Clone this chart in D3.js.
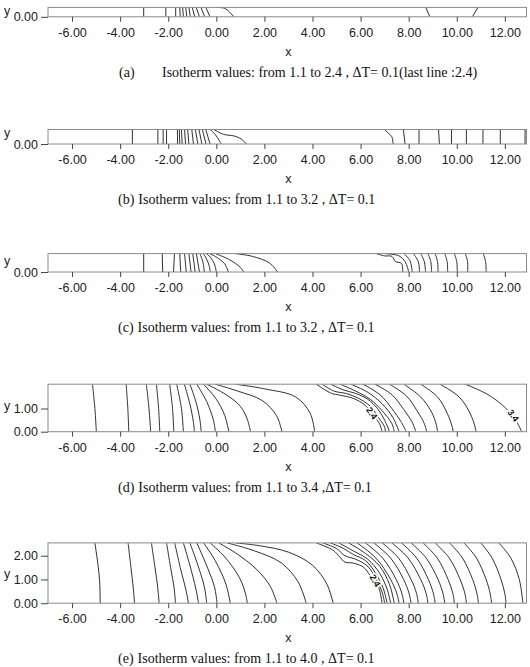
<!DOCTYPE html>
<html>
<head>
<meta charset="utf-8">
<script src="https://cdn.jsdelivr.net/npm/d3@7"></script>
<style>
  body { margin: 0; background: #fff; }
  .tick text { font-family: "Liberation Sans", Arial, sans-serif; font-size: 12.5px; fill: #222; }
  .tick line { stroke: #444; }
</style>
</head>
<body>
<svg id="chart" width="530" height="667"></svg>
<script>
// x ticks shared by all panels
const xTicks = [-6, -4, -2, 0, 2, 4, 6, 8, 10, 12];

// panel captions
const captions = [
  ["(a)", "Isotherm values: from 1.1 to 2.4 , \u0394T= 0.1(last line :2.4)"],
  ["(b)", "Isotherm values: from 1.1 to 3.2 , \u0394T= 0.1"],
  ["(c)", "Isotherm values: from 1.1 to 3.2 , \u0394T= 0.1"],
  ["(d)", "Isotherm values: from 1.1 to 3.4 ,\u0394T= 0.1"],
  ["(e)", "Isotherm values: from 1.1 to 4.0 , \u0394T= 0.1"]
];

// channel heights (y max) and y tick values
const yMax = [0.4, 0.6, 0.8, 2.05, 2.54];
const yTicksA = [0], yTicksB = [0], yTicksC = [0], yTicksD = [0, 1], yTicksE = [0, 1, 2];

// isotherms: [x, y] points
const linesA = [
  [[-3.02, 0], [-3.02, 0.4]],
  [[-2.1, 0], [-2.1, 0.4]],
  [[-1.69, 0], [-1.69, 0.4]],
  [[-1.5, 0], [-1.52, 0.4]],
  [[-1.37, 0], [-1.4, 0.4]],
  [[-1.23, 0], [-1.27, 0.4]],
  [[-1.08, 0], [-1.14, 0.4]],
  [[-0.9, 0], [-1.0, 0.4]],
  [[-0.7, 0], [-0.84, 0.4]],
  [[-0.48, 0], [-0.64, 0.4]],
  [[-0.26, 0], [-0.44, 0.4]],
  [[0.0, 0.4], [0.35, 0.36], [0.55, 0.2], [0.73, 0]],
  [[8.71, 0.4], [8.88, 0]],
  [[10.88, 0.4], [10.65, 0]]
];

const linesB = [
  [[-3.49, 0], [-3.49, 0.6]],
  [[-2.43, 0], [-2.43, 0.6]],
  [[-2.21, 0], [-2.21, 0.6]],
  [[-2.07, 0], [-2.07, 0.6]],
  [[-1.61, 0], [-1.62, 0.6]],
  [[-1.52, 0], [-1.54, 0.6]],
  [[-1.42, 0], [-1.45, 0.6]],
  [[-1.28, 0], [-1.32, 0.6]],
  [[-1.14, 0], [-1.19, 0.6]],
  [[-0.95, 0], [-1.02, 0.6]],
  [[-0.77, 0], [-0.87, 0.6]],
  [[-0.6, 0], [-0.72, 0.6]],
  [[-0.43, 0], [-0.58, 0.6]],
  [[-0.26, 0], [-0.44, 0.6]],
  [[-0.25, 0.6], [-0.05, 0.4], [0.12, 0.15], [0.2, 0]],
  [[-0.1, 0.6], [0.3, 0.4], [0.75, 0.33], [1.05, 0.2], [1.25, 0]],
  [[7.0, 0.6], [7.15, 0.45], [7.3, 0.3], [7.35, 0]],
  [[7.78, 0.6], [7.85, 0]],
  [[8.43, 0.6], [8.43, 0]],
  [[9.24, 0.6], [9.28, 0]],
  [[9.78, 0.6], [9.78, 0]],
  [[10.4, 0.6], [10.4, 0]],
  [[11.09, 0.6], [11.09, 0]],
  [[11.81, 0.6], [11.81, 0]],
  [[12.84, 0.6], [12.84, 0]]
];

const linesC = [
  [[-3.02, 0], [-3.02, 0.8]],
  [[-2.23, 0], [-2.25, 0.8]],
  [[-1.78, 0], [-1.74, 0.8]],
  [[-1.48, 0], [-1.52, 0.8]],
  [[-1.25, 0], [-1.32, 0.8]],
  [[-1.05, 0], [-1.14, 0.8]],
  [[-0.88, 0], [-0.98, 0.8]],
  [[-0.7, 0], [-0.83, 0.8]],
  [[-0.5, 0], [-0.55, 0.4], [-0.68, 0.8]],
  [[-0.25, 0], [-0.32, 0.35], [-0.45, 0.65], [-0.55, 0.8]],
  [[0.0, 0], [-0.08, 0.35], [-0.25, 0.65], [-0.42, 0.8]],
  [[0.5, 0], [0.35, 0.35], [0.0, 0.65], [-0.28, 0.8]],
  [[1.14, 0], [1.0, 0.2], [0.52, 0.55], [-0.04, 0.8]],
  [[2.55, 0], [2.2, 0.4], [1.5, 0.68], [0.8, 0.8]],
  [[6.65, 0.8], [7.0, 0.7], [7.3, 0.68], [7.45, 0.45], [7.7, 0.38], [7.75, 0]],
  [[7.0, 0.8], [7.6, 0.7], [7.85, 0.45], [7.95, 0.2], [8.0, 0]],
  [[7.8, 0.8], [8.05, 0.5], [8.15, 0]],
  [[8.2, 0.8], [8.4, 0.45], [8.45, 0]],
  [[8.5, 0.8], [8.65, 0.45], [8.7, 0]],
  [[8.8, 0.8], [8.92, 0.45], [8.95, 0]],
  [[9.1, 0.8], [9.2, 0.45], [9.22, 0]],
  [[9.5, 0.8], [9.6, 0.45], [9.62, 0]],
  [[9.9, 0.8], [10.0, 0.45], [10.02, 0]],
  [[10.35, 0.8], [10.45, 0.45], [10.45, 0]],
  [[11.1, 0.8], [11.2, 0.45], [11.22, 0]]
];

const linesD = [
  [[-5.15, 2.05], [-5.05, 1.0], [-4.99, 0]],
  [[-3.75, 2.05], [-3.68, 1.0], [-3.64, 0]],
  [[-2.91, 2.05], [-2.8, 1.0], [-2.73, 0]],
  [[-2.49, 2.05], [-2.4, 1.0], [-2.35, 0]],
  [[-1.94, 2.05], [-1.82, 1.0], [-1.77, 0]],
  [[-1.65, 2.05], [-1.45, 1.0], [-1.37, 0]],
  [[-1.33, 2.05], [-1.1, 1.2], [-0.95, 0.4], [-0.91, 0]],
  [[-1.1, 2.05], [-0.85, 1.3], [-0.68, 0.5], [-0.63, 0]],
  [[-0.81, 2.05], [-0.4, 1.3], [-0.12, 0.5], [-0.04, 0]],
  [[-0.53, 2.05], [0.0, 1.4], [0.35, 0.7], [0.52, 0]],
  [[-0.4, 2.05], [0.4, 1.6], [1.0, 1.1], [1.3, 0.5], [1.42, 0]],
  [[-0.04, 2.05], [0.9, 1.75], [1.9, 1.35], [2.5, 0.7], [2.73, 0]],
  [[0.8, 2.05], [2.0, 1.85], [3.3, 1.5], [3.9, 0.8], [4.09, 0]],
  [[4.16, 2.05], [4.78, 1.66], [5.13, 1.58], [5.69, 1.44], [6.19, 1.14], [6.53, 0.7], [6.79, 0.34], [6.89, 0]],
  [[4.4, 2.05], [4.9, 1.75], [5.4, 1.65], [5.9, 1.45], [6.4, 1.1], [6.75, 0.6], [7.0, 0.2], [7.03, 0]],
  [[4.75, 2.05], [5.3, 1.8], [5.8, 1.65], [6.3, 1.4], [6.7, 1.0], [7.0, 0.5], [7.2, 0]],
  [[5.15, 2.05], [5.8, 1.75], [6.4, 1.4], [6.9, 0.9], [7.3, 0.35], [7.4, 0]],
  [[5.6, 2.05], [6.3, 1.7], [6.9, 1.2], [7.35, 0.6], [7.6, 0]],
  [[6.1, 2.05], [6.8, 1.6], [7.3, 1.0], [7.7, 0.4], [7.9, 0]],
  [[6.6, 2.05], [7.3, 1.6], [7.8, 0.95], [8.15, 0.4], [8.3, 0]],
  [[7.2, 2.05], [7.9, 1.55], [8.35, 0.9], [8.65, 0.35], [8.75, 0]],
  [[7.8, 2.05], [8.5, 1.5], [8.95, 0.85], [9.15, 0.3], [9.2, 0]],
  [[8.5, 2.05], [9.2, 1.5], [9.6, 0.8], [9.8, 0.25], [9.85, 0]],
  [[9.3, 2.05], [10.1, 1.5], [10.55, 0.8], [10.75, 0.25], [10.8, 0]],
  [[10.35, 2.05], [11.3, 1.6], [12.0, 1.05], [12.45, 0.5], [12.7, 0]]
];

const linesE = [
  [[-5.05, 2.54], [-4.92, 1.6], [-4.85, 0.9], [-4.83, 0]],
  [[-3.67, 2.54], [-3.55, 1.5], [-3.45, 0.6], [-3.4, 0]],
  [[-2.7, 2.54], [-2.55, 1.5], [-2.43, 0.6], [-2.38, 0]],
  [[-2.07, 2.54], [-1.9, 1.5], [-1.75, 0.6], [-1.7, 0]],
  [[-1.73, 2.54], [-1.5, 1.5], [-1.25, 0.5], [-1.16, 0]],
  [[-1.37, 2.54], [-1.1, 1.6], [-0.85, 0.6], [-0.74, 0]],
  [[-1.1, 2.54], [-0.8, 1.7], [-0.5, 0.7], [-0.4, 0]],
  [[-0.81, 2.54], [-0.45, 1.7], [-0.08, 0.7], [0.03, 0]],
  [[-0.53, 2.54], [-0.05, 1.8], [0.4, 0.8], [0.58, 0]],
  [[-0.26, 2.54], [0.35, 1.95], [0.95, 1.1], [1.2, 0.45], [1.29, 0]],
  [[0.1, 2.54], [0.9, 2.05], [1.7, 1.4], [2.25, 0.7], [2.52, 0]],
  [[0.45, 2.54], [1.6, 2.2], [2.7, 1.7], [3.4, 0.9], [3.74, 0]],
  [[0.8, 2.54], [1.8, 2.42], [3.0, 2.15], [4.0, 1.6], [4.6, 0.8], [4.86, 0]],
  [[4.16, 2.54], [4.86, 2.23], [5.13, 1.95], [5.35, 1.73], [5.69, 1.69], [6.12, 1.52], [6.4, 1.16], [6.75, 0.67], [6.89, 0]],
  [[4.43, 2.54], [5.0, 2.3], [5.35, 2.0], [5.8, 1.85], [6.3, 1.55], [6.65, 1.0], [6.9, 0.45], [7.0, 0]],
  [[4.75, 2.54], [5.3, 2.3], [5.7, 2.05], [6.2, 1.8], [6.6, 1.3], [6.95, 0.6], [7.1, 0]],
  [[5.1, 2.54], [5.7, 2.2], [6.3, 1.85], [6.8, 1.25], [7.1, 0.6], [7.25, 0]],
  [[5.5, 2.54], [6.2, 2.1], [6.8, 1.55], [7.2, 0.8], [7.4, 0]],
  [[5.85, 2.54], [6.64, 1.9], [7.25, 1.0], [7.51, 0.4], [7.6, 0]],
  [[6.2, 2.54], [6.92, 1.9], [7.48, 1.0], [7.72, 0.4], [7.8, 0]],
  [[6.55, 2.54], [7.25, 1.9], [7.79, 1.0], [8.02, 0.4], [8.1, 0]],
  [[6.9, 2.54], [7.58, 1.9], [8.1, 1.0], [8.33, 0.4], [8.4, 0]],
  [[7.3, 2.54], [7.98, 1.9], [8.5, 1.0], [8.73, 0.4], [8.8, 0]],
  [[7.7, 2.54], [8.33, 1.9], [8.82, 1.0], [9.03, 0.4], [9.1, 0]],
  [[8.1, 2.54], [8.73, 1.9], [9.22, 1.0], [9.43, 0.4], [9.5, 0]],
  [[8.6, 2.54], [9.19, 1.9], [9.64, 1.0], [9.84, 0.4], [9.9, 0]],
  [[9.1, 2.54], [9.69, 1.9], [10.14, 1.0], [10.34, 0.4], [10.4, 0]],
  [[9.7, 2.54], [10.24, 1.9], [10.66, 1.0], [10.84, 0.4], [10.9, 0]],
  [[10.3, 2.54], [10.82, 1.9], [11.22, 1.0], [11.39, 0.4], [11.45, 0]],
  [[11.0, 2.54], [11.47, 1.9], [11.84, 1.0], [12.0, 0.4], [12.05, 0]],
  [[11.75, 2.54], [12.25, 1.9], [12.6, 1.0], [12.75, 0]]
];

// contour labels: [x, y, text, angle]
const labelsD = [[6.47, 0.8, "2.4", 55], [12.35, 0.7, "3.4", 55]];
const labelsE = [[6.6, 0.95, "2.4", 60]];

// page layout of each panel (pixels)
const layout = [
  { top: 7.4,   bottom: 16.8,  yLab: 15 },
  { top: 129.5, bottom: 144,   yLab: 137 },
  { top: 253.6, bottom: 272,   yLab: 265 },
  { top: 384.2, bottom: 431.7, yLab: 410 },
  { top: 542.9, bottom: 603.2, yLab: 578 }
];

const panels = [
  { lines: linesA, yTicks: yTicksA, labels: [] },
  { lines: linesB, yTicks: yTicksB, labels: [] },
  { lines: linesC, yTicks: yTicksC, labels: [] },
  { lines: linesD, yTicks: yTicksD, labels: labelsD },
  { lines: linesE, yTicks: yTicksE, labels: labelsE }
];

const svg = d3.select("#chart");
const x = d3.scaleLinear().domain([-7, 12.9]).range([48, 526.5]);

panels.forEach((p, i) => {
  const L = layout[i];
  const y = d3.scaleLinear().domain([0, yMax[i]]).range([L.bottom, L.top]);
  const g = svg.append("g");

  // clip to the channel
  g.append("clipPath").attr("id", "clip" + i)
    .append("rect")
    .attr("x", x(-7)).attr("y", y(yMax[i]))
    .attr("width", x(12.9) - x(-7)).attr("height", y(0) - y(yMax[i]));

  const line = d3.line()
    .x(d => x(d[0]))
    .y(d => y(d[1]))
    .curve(d3.curveCatmullRom.alpha(0.5));

  g.append("g").attr("clip-path", `url(#clip${i})`)
    .selectAll("path")
    .data(p.lines)
    .join("path")
    .attr("d", line)
    .attr("fill", "none")
    .attr("stroke", "#1a1a1a")
    .attr("stroke-width", 0.9);

  // frame
  g.append("rect")
    .attr("x", x(-7)).attr("y", y(yMax[i]))
    .attr("width", x(12.9) - x(-7)).attr("height", y(0) - y(yMax[i]))
    .attr("fill", "none").attr("stroke", "#8a8a8a").attr("stroke-width", 1);

  // contour labels
  p.labels.forEach(l => {
    g.append("text")
      .attr("transform", `translate(${x(l[0])},${y(l[1])}) rotate(${l[3]})`)
      .attr("text-anchor", "middle")
      .attr("dy", "0.35em")
      .style("font-family", "Liberation Sans, Arial, sans-serif")
      .style("font-size", "9px")
      .style("font-weight", "bold")
      .attr("fill", "#111")
      .attr("stroke", "#fff").attr("stroke-width", 3)
      .style("paint-order", "stroke")
      .text(l[2]);
  });

  // axes
  const xAxis = g.append("g")
    .attr("transform", `translate(0,${y(0)})`)
    .call(d3.axisBottom(x).tickValues(xTicks).tickFormat(d => d.toFixed(2)).tickSize(5).tickPadding(6));
  xAxis.select(".domain").remove();

  const yAxis = g.append("g")
    .attr("transform", `translate(${x(-7)},0)`)
    .call(d3.axisLeft(y).tickValues(p.yTicks).tickFormat(d => d.toFixed(2)).tickSize(7).tickPadding(3));
  yAxis.select(".domain").remove();

  g.append("text")
    .attr("x", 7).attr("y", L.yLab)
    .attr("text-anchor", "middle")
    .style("font-family", "Liberation Sans, Arial, sans-serif")
    .style("font-size", "12.5px")
    .attr("fill", "#222")
    .text("y");

  g.append("text")
    .attr("x", x(3)).attr("y", L.bottom + 39)
    .attr("text-anchor", "middle")
    .style("font-family", "Liberation Sans, Arial, sans-serif")
    .style("font-size", "12.5px")
    .attr("fill", "#222")
    .text("x");

  // caption
  const cap = g.append("text")
    .attr("y", L.bottom + 60)
    .style("font-family", "Liberation Serif, Times New Roman, serif")
    .style("font-size", "14px")
    .attr("fill", "#111");
  cap.append("tspan").attr("x", i === 0 ? 119 : 118).text(captions[i][0]);
  cap.append("tspan").attr("x", i === 0 ? 162 : null).attr("dx", i === 0 ? null : 4).text(captions[i][1]);
});
</script>
</body>
</html>
